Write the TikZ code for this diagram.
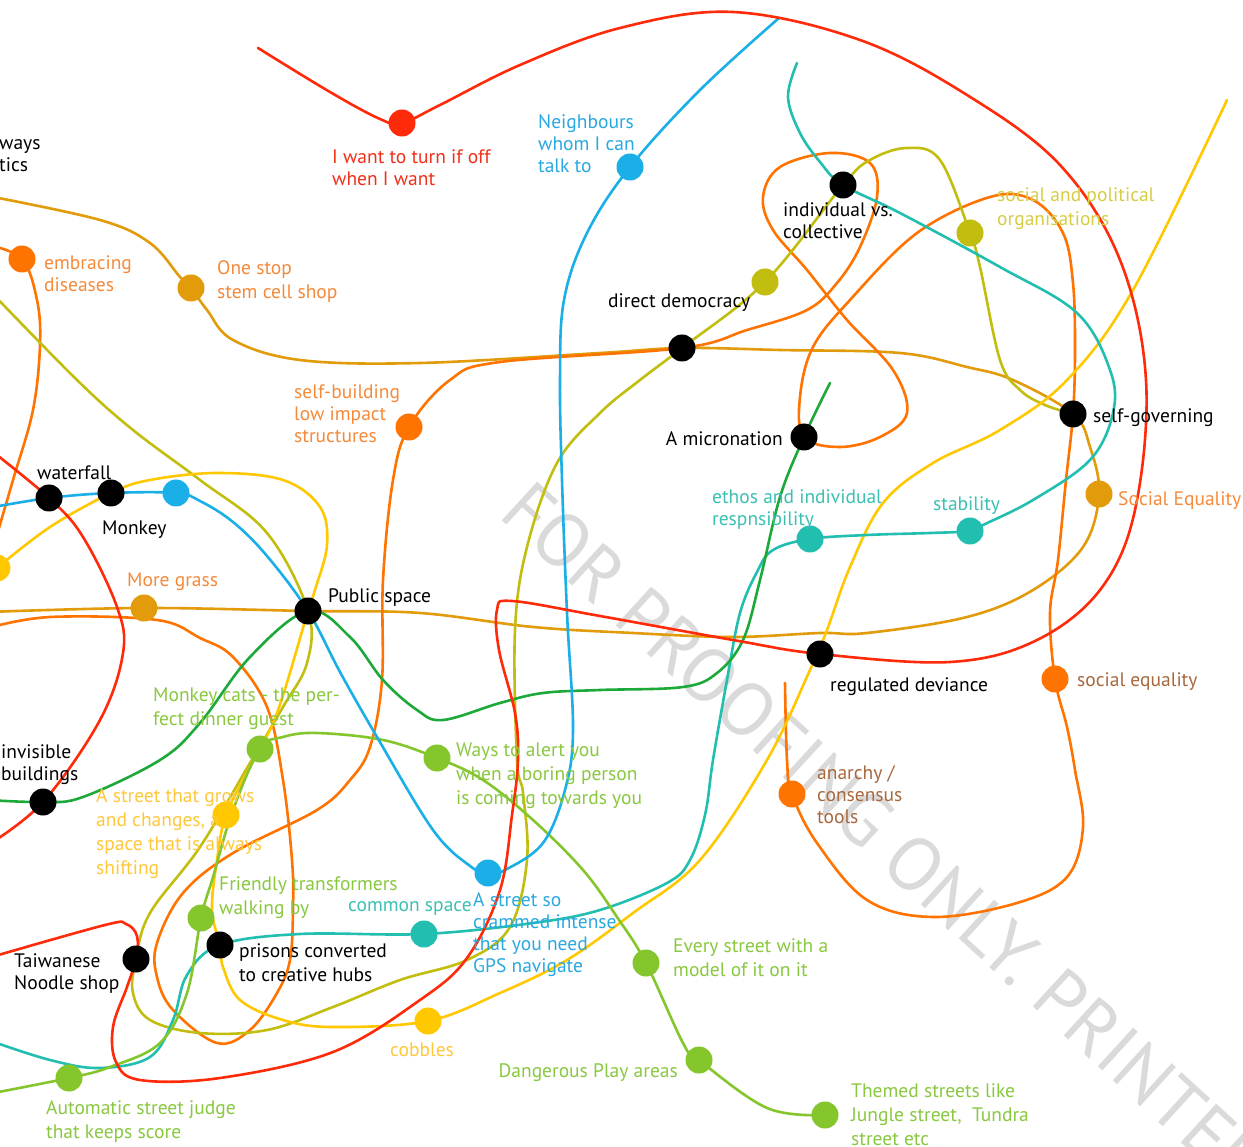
\documentclass[tikz,border=0pt]{standalone}
\usepackage{fontspec}
\setmainfont{PT Sans}
\definecolor{cRed}{HTML}{FF2A0A}
\definecolor{cBlue}{HTML}{1AAFE6}
\definecolor{cTeal}{HTML}{22BFB0}
\definecolor{cGreen}{HTML}{1DA83A}
\definecolor{cLGreen}{HTML}{85C62C}
\definecolor{cOlive}{HTML}{C2BE10}
\definecolor{cYellow}{HTML}{FFC800}
\definecolor{cOrange}{HTML}{FF7300}
\definecolor{cOchre}{HTML}{E29B0A}
\definecolor{tRed}{HTML}{F0301A}
\definecolor{tBlue}{HTML}{2AA8E0}
\definecolor{tTeal}{HTML}{3CC0B2}
\definecolor{tLGreen}{HTML}{8AC840}
\definecolor{tOlive}{HTML}{D6CD45}
\definecolor{tYellow}{HTML}{FFC83A}
\definecolor{tOrange}{HTML}{F58A3A}
\definecolor{tBrown}{HTML}{A8683E}
\definecolor{wmGray}{HTML}{DADADA}
\newcommand{\fsA}{\fontsize{19.5}{22}\selectfont}
\newcommand{\fsB}{\fontsize{19.5}{24}\selectfont}
\pgfdeclarelayer{wmlayer}
\pgfdeclarelayer{bg}
\pgfsetlayers{wmlayer,bg,main}
\tikzset{
  dot/.style={circle, fill=#1, minimum size=27pt, inner sep=0pt, draw=none},
  ln/.style={draw=#1, line width=2.6pt, line cap=round, line join=round},
  lab/.style={inner sep=0pt, anchor=north west, align=left, font=\fsA, yshift=-3pt, execute at begin node=\strut},
  labw/.style={lab, font=\fsB},
  wmtext/.style={inner sep=0pt, text=wmGray, font=\fontsize{75}{78}\selectfont}
}
\begin{document}
\begin{tikzpicture}[x=1pt,y=-1pt]
\useasboundingbox (0,0) rectangle (1243,1147);

% ---------- dots ----------
\node[dot=cRed] (dWant) at (402,123) {};
\node[dot=cBlue] (dNeigh) at (630,167) {};
\node[dot=black] (dIndiv) at (843,185) {};
\node[dot=cOlive] (dSPO) at (970,233) {};
\node[dot=cOlive] (dOliveD) at (765,282) {};
\node[dot=black] (dDirect) at (682,348) {};
\node[dot=cOrange] (dEmbr) at (22,259) {};
\node[dot=cOchre] (dOneStop) at (191,288) {};
\node[dot=cOrange] (dSelfB) at (409,427) {};
\node[dot=black] (dMicro) at (804,437) {};
\node[dot=black] (dSelfGov) at (1073,414) {};
\node[dot=cOchre] (dSocEqU) at (1099,494) {};
\node[dot=cTeal] (dEthos) at (810,539) {};
\node[dot=cTeal] (dStab) at (970,531) {};
\node[dot=black] (dWaterfall) at (49,498) {};
\node[dot=black] (dMonkey) at (111,493) {};
\node[dot=cBlue] (dBlueM) at (176,493) {};
\node[dot=cYellow] (dYleft) at (-3,568) {};
\node[dot=cOchre] (dGrass) at (144,608) {};
\node[dot=black] (dPublic) at (308,611) {};
\node[dot=black] (dRegDev) at (820,654) {};
\node[dot=cOrange] (dSocEq) at (1055,679) {};
\node[dot=cLGreen] (dMcats) at (260,749) {};
\node[dot=cLGreen] (dWays) at (437,758) {};
\node[dot=black] (dInvisible) at (43,802) {};
\node[dot=cYellow] (dGrows) at (226,815) {};
\node[dot=cOrange] (dAnarchy) at (792,794) {};
\node[dot=cBlue] (dCrammed) at (488,873) {};
\node[dot=cLGreen] (dFriendly) at (201,918) {};
\node[dot=black] (dPrisons) at (220,945) {};
\node[dot=cTeal] (dCommon) at (424,934) {};
\node[dot=black] (dTaiwan) at (136,959) {};
\node[dot=cLGreen] (dEvery) at (646,963) {};
\node[dot=cYellow] (dCobbles) at (428,1021) {};
\node[dot=cLGreen] (dDanger) at (699,1060) {};
\node[dot=cLGreen] (dAuto) at (69,1078) {};
\node[dot=cLGreen] (dThemed) at (825,1115) {};

% ---------- free ends ----------
\coordinate (rA) at (258,48);
\coordinate (rB) at (-12,958);
\coordinate (rL1) at (-12,448);
\coordinate (rL2) at (-12,845);
\coordinate (bA) at (-12,508);
\coordinate (bB) at (779,18);
\coordinate (tA) at (797,63);
\coordinate (tB) at (-12,1040);
\coordinate (gA) at (-12,800);
\coordinate (gB) at (830,383);
\coordinate (lA) at (-12,1094);
\coordinate (oA) at (-12,289);
\coordinate (yB) at (1227,100);
\coordinate (orA) at (-12,628);
\coordinate (orB) at (785,683);
\coordinate (oeA) at (-12,245);
\coordinate (oeB) at (-6,545);
\coordinate (ocA) at (-12,612);
\coordinate (ocB) at (-12,196);

% ---------- watermark ----------
\begin{pgfonlayer}{wmlayer}
\fill[white] (0,0) rectangle (1243,1147);
\clip (0,0) rectangle (1243,1147);
\node[wmtext, anchor=west, rotate=-42.5] (wm) at (515,497) {FOR PROOFING ONLY. PRINTED};
\end{pgfonlayer}

% ---------- lines ----------
\begin{pgfonlayer}{bg}
\clip (0,0) rectangle (1243,1147);
% ochre
\draw[ln=cOchre] plot[smooth, tension=0.6] coordinates {(ocA) (dGrass.center) (dPublic.center) (420,613) (533,627) (633,633) (733,637) (820,633) (867,633) (967,617) (1033,590) (1083,547) (dSocEqU.center) (1090,447) (dSelfGov.center) (1013,380) (967,367) (900,353) (780,350) (dDirect.center) (600,353) (420,363) (300,360) (233,340) (207,310) (dOneStop.center) (180,277) (150,243) (100,220) (ocB)};
% orange embracing
\draw[ln=cOrange] plot[smooth, tension=0.6] coordinates {(oeA) (dEmbr.center) (37,300) (40,345) (33,410) (13,480) (oeB)};
% orange long
\draw[ln=cOrange] plot[smooth, tension=0.6] coordinates {(orA) (50,617) (157,620) (200,638) (233,657) (267,707) (283,780) (292,860) (293,910) (290,960) (277,993) (250,1030) (217,1043) (173,1010) (157,977) (157,943) (183,893) (233,853) (317,810) (350,780) (370,747) (382,680) (383,580) (393,480) (dSelfB.center) (450,380) (500,362) (dDirect.center) (747,330) (807,310) (837,283) (860,247) (877,197) (870,163) (830,153) (780,167) (763,197) (773,230) (807,270) (847,320) (893,370) (907,413) (880,437) (840,447) (dMicro.center) (800,397) (813,347) (850,300) (917,233) (990,197) (1033,200) (1063,233) (1073,283) (1075,350) (dSelfGov.center) (1066,480) (1058,560) (1050,613) (dSocEq.center) (1067,727) (1075,770) (1083,827) (1067,877) (1017,903) (933,917) (867,900) (817,843) (dAnarchy.center) (787,760) (orB)};
% olive
\draw[ln=cOlive] plot[smooth, tension=0.6] coordinates {(oA) (77,380) (133,430) (200,480) (267,533) (dPublic.center) (307,663) (283,707) (250,763) (200,847) (150,913) (dTaiwan.center) (133,993) (150,1020) (200,1033) (267,1030) (333,1007) (400,980) (467,960) (510,927) (527,860) (523,793) (517,760) (515,630) (527,547) (557,463) (600,413) (640,380) (dDirect.center) (dOliveD.center) (dIndiv.center) (870,160) (907,148) (940,160) (dSPO.center) (980,267) (1000,360) (1020,390) (1045,405) (dSelfGov.center)};
% yellow
\draw[ln=cYellow] plot[smooth, tension=0.6] coordinates {(dYleft.center) (50,527) (dMonkey.center) (150,480) (217,473) (283,480) (320,507) (327,545) (315,590) (dPublic.center) (277,713) (250,767) (dGrows.center) (217,860) (212,910) (dPrisons.center) (223,967) (240,1000) (283,1020) (333,1027) (dCobbles.center) (500,993) (567,960) (633,913) (700,860) (767,760) (810,670) (827,630) (850,567) (883,503) (933,463) (1000,430) (1067,380) (1133,290) (yB)};
% teal
\draw[ln=cTeal] plot[smooth, tension=0.6] coordinates {(tA) (788,97) (800,133) (820,162) (dIndiv.center) (900,213) (1000,267) (1077,313) (1110,370) (1113,413) (1090,460) (1033,500) (983,525) (dStab.center) (930,533) (867,535) (dEthos.center) (773,550) (757,572) (740,613) (727,680) (713,760) (705,815) (690,860) (667,883) (600,910) (533,923) (dCommon.center) (300,934) (dPrisons.center) (187,975) (173,1020) (150,1057) (100,1068) (50,1060) (tB)};
% green
\draw[ln=cGreen] plot[smooth, tension=0.6] coordinates {(gA) (dInvisible.center) (83,797) (160,760) (200,723) (250,657) (dPublic.center) (350,637) (383,680) (417,710) (443,720) (500,703) (543,693) (600,690) (683,687) (717,673) (743,640) (760,580) (780,497) (dMicro.center) (gB)};
% light green
\draw[ln=cLGreen] plot[smooth, tension=0.6] coordinates {(lA) (dAuto.center) (110,1067) (160,1043) (187,993) (dFriendly.center) (213,877) (233,810) (dMcats.center) (283,737) (317,733) (383,740) (dWays.center) (483,780) (533,820) (583,870) (617,917) (dEvery.center) (683,1043) (dDanger.center) (767,1108) (dThemed.center)};
% blue
\draw[ln=cBlue] plot[smooth, tension=0.6] coordinates {(bA) (dWaterfall.center) (dMonkey.center) (dBlueM.center) (200,501) (233,522) (267,556) (dPublic.center) (340,672) (377,737) (433,830) (470,866) (dCrammed.center) (505,870) (543,843) (565,790) (573,730) (567,613) (562,480) (560,380) (564,300) (587,233) (dNeigh.center) (700,90) (bB)};
% red loop left
\draw[ln=cRed] plot[smooth, tension=0.6] coordinates {(rL1) (dWaterfall.center) (83,537) (117,607) (123,653) (100,720) (dInvisible.center) (rL2)};
% red main
\draw[ln=cRed] plot[smooth, tension=0.6] coordinates {(rA) (330,92) (380,119) (dWant.center) (440,105) (520,65) (620,28) (733,12) (860,40) (967,95) (1060,165) (1120,260) (1146,380) (1135,510) (1100,590) (1035,641) (950,662) (dRegDev.center) (733,640) (600,616) (512,601) (497,610) (499,650) (515,713) (518,760) (512,815) (500,890) (467,958) (420,1000) (333,1052) (220,1078) (140,1080) (116,1062) (113,1027) (127,987) (dTaiwan.center) (137,936) (126,924) (105,925) (rB)};
\end{pgfonlayer}

% ---------- labels ----------
\node[lab] (lWays) at (-1,136.5) {ways\\tics};
\node[lab, text=tRed] (lWant) at (332,146.5) {I want to turn if off\\when I want};
\node[lab, text=tBlue] (lNeigh) at (538,111.5) {Neighbours\\whom I can\\talk to};
\node[lab] (lIndiv) at (783,199.5) {individual vs.\\collective};
\node[labw, text=tOlive] (lSPO) at (997,184) {social and political\\organisations};
\node[lab] (lDirect) at (608,288.5) {direct democracy};
\node[lab, text=tOrange] (lEmbr) at (44,252.5) {embracing\\diseases};
\node[labw, text=tOrange] (lOneStop) at (217,257) {One stop\\stem cell shop};
\node[lab, text=tOrange] (lSelfB) at (294,381.5) {self-building\\low impact\\structures};
\node[lab, anchor=north east] (lMicro) at (783,426.5) {A micronation};
\node[lab] (lSelfGov) at (1093,403.5) {self-governing};
\node[lab, text=tTeal] (lEthos) at (712,486.5) {ethos and individual\\respnsibility};
\node[lab, text=tTeal] (lStab) at (933,491.5) {stability};
\node[lab, text=tOrange] (lSocEqU) at (1118,486.5) {Social Equality};
\node[lab] (lWaterfall) at (37,460.5) {waterfall};
\node[lab] (lMonkey) at (102,515.5) {Monkey};
\node[lab, text=tOrange] (lGrass) at (127,567.5) {More grass};
\node[lab] (lPublic) at (328,583.5) {Public space};
\node[lab] (lRegDev) at (830,672.5) {regulated deviance};
\node[lab, text=tBrown] (lSocEq) at (1077,667.5) {social equality};
\node[labw, text=tLGreen] (lMcats) at (153,685) {Monkey cats - the per-\\fect dinner guest};
\node[lab] (lInvisible) at (1,741.5) {invisible\\buildings};
\node[labw, text=tLGreen] (lWaysAlert) at (456,740) {Ways to alert you\\when a boring person\\is coming towards you};
\node[labw, text=tYellow] (lGrows) at (96,785) {A street that grows\\and changes, a\\space that is always\\shifting};
\node[lab, text=tBrown] (lAnarchy) at (817,762.5) {anarchy /\\consensus\\tools};
\node[labw, text=tLGreen] (lFriendly) at (219,873) {Friendly transformers\\walking by};
\node[lab, text=tTeal] (lCommon) at (348,892.5) {common space};
\node[lab, text=tBlue] (lCrammed) at (473,889.5) {A street so\\crammed intense\\that you need\\GPS navigate};
\node[labw] (lPrisons) at (239,940) {prisons converted\\to creative hubs};
\node[lab] (lTaiwan) at (14,950.5) {Taiwanese\\Noodle shop};
\node[labw, text=tLGreen] (lEvery) at (673,935) {Every street with a\\model of it on it};
\node[lab, text=tYellow] (lCobbles) at (390,1037.5) {cobbles};
\node[lab, anchor=north east, text=tLGreen] (lDanger) at (678,1058.5) {Dangerous Play areas};
\node[labw, text=tLGreen] (lAuto) at (46,1097) {Automatic street judge\\that keeps score};
\node[labw, text=tLGreen] (lThemed) at (851,1080) {Themed streets like\\Jungle street,\ \ Tundra\\street etc};
\end{tikzpicture}
\end{document}
